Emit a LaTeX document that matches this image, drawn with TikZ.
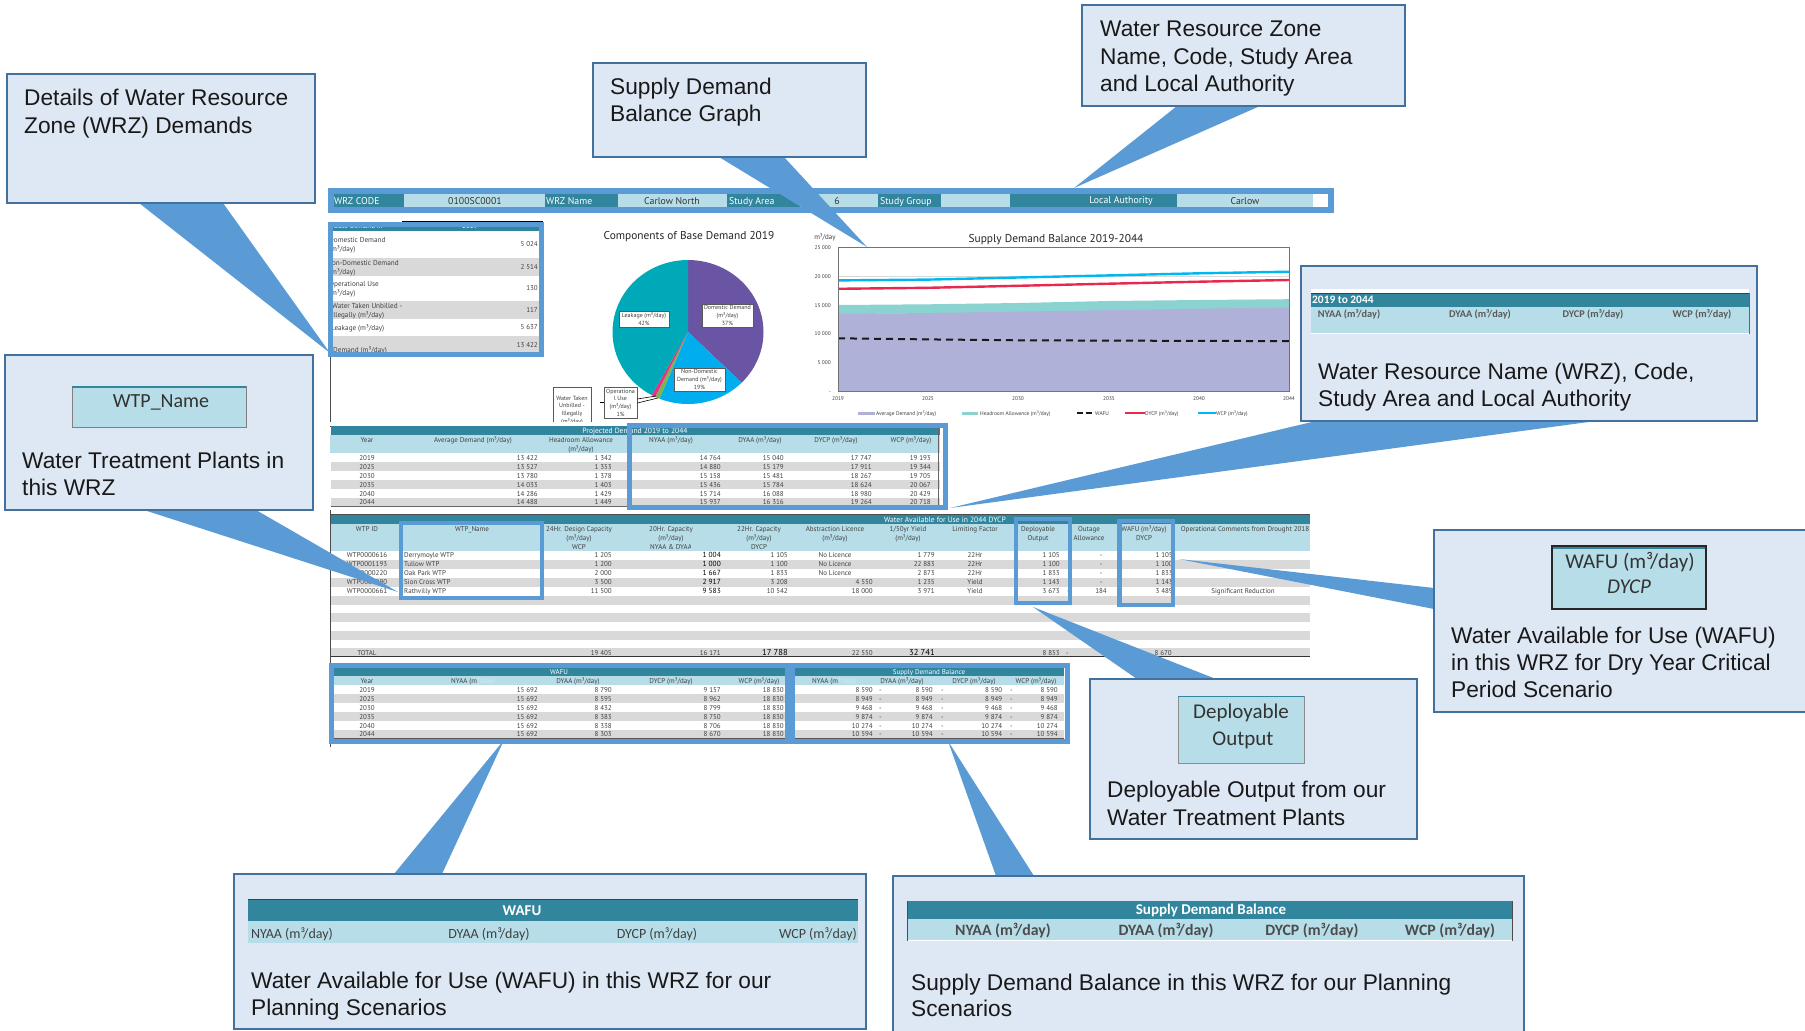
\documentclass[tikz,border=0pt]{standalone}
\usepackage{fontspec}
\setmainfont{Liberation Sans}
\newfontfamily\tabfont{PT Sans}
\newfontfamily\calfont{Carlito}
\definecolor{tealdark}{HTML}{31859C}
\definecolor{teallight}{HTML}{B7DEE8}
\definecolor{rowgrey}{HTML}{D9D9D9}
\definecolor{calloutfill}{HTML}{DEE8F4}
\definecolor{calloutline}{HTML}{41719C}
\definecolor{accent}{HTML}{5B9BD5}
\definecolor{tabtext}{HTML}{404040}
\definecolor{avgfill}{HTML}{B0B1D9}
\definecolor{headfill}{HTML}{8AD3D0}
\definecolor{wcpline}{HTML}{00B7F0}
\definecolor{dycpline}{HTML}{E8284F}
\newcount\cellno
\newcommand{\cellR}[4][tabtext]{\global\advance\cellno by 1 \node[cellbase,anchor=mid east,text=#1] (cell\the\cellno) at (#2,#3) {#4};}
\newcommand{\cellL}[4][tabtext]{\global\advance\cellno by 1 \node[cellbase,anchor=mid west,text=#1] (cell\the\cellno) at (#2,#3) {#4};}
\newcommand{\cellC}[4][tabtext]{\global\advance\cellno by 1 \node[cellbase,anchor=mid,text=#1] (cell\the\cellno) at (#2,#3) {#4};}
\newcommand{\bandG}[4]{\fill[rowgrey] (#1,#2) rectangle (#3,#4);}
\newcommand{\callbox}[5]{\node[calloutbox,minimum width={(#4-#2)*1pt},minimum height={(#5-#3)*1pt}] (#1) at ({(#2+#4)/2},{(#3+#5)/2}) {};}
\newcommand{\bodytext}[4]{\node[bodyline] (#1) at (#2,#3) {#4};}
\tikzset{
  cellbase/.style={inner sep=0pt,font=\tabfont\fontsize{7}{7.5}\selectfont},
  calloutbox/.style={draw=calloutline,line width=1.8pt,fill=calloutfill,inner sep=0pt},
  bodyline/.style={anchor=mid west,inner sep=0pt,yshift=-5.5pt,font=\fontsize{22.7}{27}\selectfont,text=black!90},
  tailshape/.style={fill=accent},
  bluefr/.style={draw=accent,line width=5pt},
  pielab/.style={draw=black!65,line width=0.8pt,fill=white,inner sep=1pt,align=center,font=\tabfont\fontsize{6}{8.2}\selectfont,text=tabtext},
  minibar/.style={fill=tealdark},
  minilight/.style={fill=teallight},
  minitext/.style={inner sep=0pt,font=\calfont\fontsize{14}{16}\selectfont,text=black!80},
  axislab/.style={inner sep=0pt,font=\tabfont\fontsize{5.4}{6}\selectfont,text=tabtext},
  charttitle/.style={inner sep=0pt,yshift=-2pt,font=\tabfont\fontsize{11.4}{13}\selectfont,text=black!85},
}
\begin{document}
\begin{tikzpicture}[x=1pt,y=-1pt]
\useasboundingbox (0,0) rectangle (1805,1031);
\clip (0,0) rectangle (1805,1031);
\fill[white] (0,0) rectangle (1805,1031);

% page line
\draw[black!70,line width=1pt] (330,357) -- (330,747);

% ---------- header band
\fill[white] (1313,194) rectangle (1329,207);
\fill[teallight] (333,194) rectangle (1313,207);
\foreach \a/\b in {333/404,545/618,727/800,878/941,1010/1177}{\fill[tealdark] (\a,194) rectangle (\b,207);}
\cellL[white]{334}{201.5}{\fontsize{9.8}{10}\selectfont WRZ CODE}
\cellC[black!80]{475}{201.5}{\fontsize{9.8}{10}\selectfont 0100SC0001}
\cellL[white]{546}{201.5}{\fontsize{9.8}{10}\selectfont WRZ Name}
\cellC[black!80]{672}{201.5}{\fontsize{9.8}{10}\selectfont Carlow North}
\cellL[white]{729}{201.5}{\fontsize{9.8}{10}\selectfont Study Area}
\cellC[black!80]{837}{201.5}{\fontsize{9.8}{10}\selectfont 6}
\cellL[white]{880}{201.5}{\fontsize{9.8}{10}\selectfont Study Group}
\cellC[white]{1121}{200.5}{\fontsize{9.8}{10}\selectfont Local Authority}
\cellC[black!80]{1245}{201.5}{\fontsize{9.8}{10}\selectfont Carlow}

% ---------- base demand table
\draw[black,line width=1pt] (402,221.5) -- (543,221.5);
\fill[tealdark] (333,226) rectangle (539,230.5);
\bandG{333}{258}{539}{276}
\bandG{333}{301}{539}{319}
\bandG{333}{336}{539}{352}
\begin{scope}
\clip (333,227) rectangle (539,352);
\cellL[white]{334}{226}{Base Demand in}
\cellL[white]{462}{226}{2019}
\cellL{329}{240}{\fontsize{7.2}{8}\selectfont Domestic Demand}
\cellL{329}{249}{\fontsize{7.2}{8}\selectfont (m³/day)}
\cellL{327}{263}{\fontsize{7.2}{8}\selectfont Non-Domestic Demand}
\cellL{329}{272}{\fontsize{7.2}{8}\selectfont (m³/day)}
\cellL{329}{284}{\fontsize{7.2}{8}\selectfont Operational Use}
\cellL{329}{293}{\fontsize{7.2}{8}\selectfont (m³/day)}
\cellL{332}{306}{\fontsize{7.2}{8}\selectfont Water Taken Unbilled -}
\cellL{331}{315}{\fontsize{7.2}{8}\selectfont Illegally (m³/day)}
\cellL{331}{328}{\fontsize{7.2}{8}\selectfont Leakage (m³/day)}
\cellL{333}{350}{\fontsize{7.2}{8}\selectfont Demand (m³/day)}
\cellR{538}{244}{5 024}
\cellR{538}{267}{2 514}
\cellR{538}{288}{130}
\cellR{538}{310}{117}
\cellR{538}{327}{5 637}
\cellR{538}{345}{13 422}
\end{scope}

% ---------- pie chart
\node[charttitle] (pietitle) at (689,235) {Components of Base Demand 2019};
\foreach \aa/\bb/\cc in {90/-44.8/6A55A5,-44.8/-112.2/00AEEF,-112.2/-115.7/7AB648,-115.7/-118.8/E6308A,-118.8/-270/00A9B7}{
  \definecolor{slicecol}{HTML}{\cc}
  \fill[slicecol] (688,332) -- plot[domain=\aa:\bb,samples=40] ({688+75.5*cos(\x)},{332-72*sin(\x)}) -- cycle;
}
\node[pielab,minimum width=51pt,minimum height=23pt] (pdom) at (727.5,315.5) {Domestic Demand\\[-0.5pt](m³/day)\\[-0.5pt]37\%};
\node[pielab,minimum width=50pt,minimum height=16pt] (pleak) at (644,319) {Leakage (m³/day)\\[-0.5pt]42\%};
\node[pielab,minimum width=51pt,minimum height=23pt] (pnon) at (699.5,379.5) {Non-Domestic\\[-0.5pt]Demand (m³/day)\\[-0.5pt]19\%};
\node[pielab,minimum width=33pt,minimum height=31pt,inner sep=0.5pt] (pop) at (620.5,402.5) {Operationa\\[-0.5pt]l Use\\[-0.5pt](m³/day)\\[-0.5pt]1\%};
\begin{scope}
\clip (545,380) rectangle (600,422);
\node[pielab,minimum width=38pt,minimum height=52pt,anchor=north,inner sep=0.5pt,text depth=0pt] (pill) at (572,387) {Water Taken\\[-0.5pt]Unbilled -\\[-0.5pt]Illegally\\[-0.5pt](m³/day)\\[-0.5pt]1\%};
\end{scope}
\coordinate (slicegreen) at (658,398);
\coordinate (slicepink) at (656,396);
\coordinate (stubleft) at (600,402);
\draw[black,line width=0.6pt] (pop.east |- 0,399) -- (slicepink);
\draw[black,line width=0.6pt] (pop.east |- 0,403) -- (slicegreen);
\draw[black,line width=0.6pt] (stubleft) -- (pop.west |- stubleft);

% ---------- supply demand chart
\node[charttitle] (sdtitle) at (1056,238) {Supply Demand Balance 2019-2044};
\node[axislab,font=\tabfont\fontsize{7}{8}\selectfont] (unitlab) at (825,237) {m³/day};
\draw[black!15,line width=0.8pt] (838,276) -- (1289,276);
\draw[black!15,line width=0.8pt] (838,305) -- (1289,305);
\fill[headfill] (838,305.0) -- (928,304.3) -- (1018,303) -- (1109,301) -- (1199,300) -- (1289,299.2) -- (1289,311) -- (838,314) -- cycle;
\fill[avgfill] (838,313.7) -- (928,313.1) -- (1018,311.6) -- (1109,310.2) -- (1199,308.7) -- (1289,307.5) -- (1289,391) -- (838,391) -- cycle;
\draw[black!90,dash pattern=on 7pt off 5pt,line width=2pt] (838,338.3) -- (928,339.4) -- (1018,340.3) -- (1109,340.6) -- (1199,340.9) -- (1289,341.1);
\draw[dycpline,line width=2.4pt] (838,288.8) -- (928,287.8) -- (1018,285.8) -- (1109,283.7) -- (1199,281.7) -- (1289,280);
\draw[wcpline,line width=2.4pt] (838,280.4) -- (928,279.6) -- (1018,277.5) -- (1109,275.4) -- (1199,273.3) -- (1289,271.7);
\draw[black!55,line width=1pt] (838,247) rectangle (1289,391);
\foreach \yy/\tt in {247/25 000,276/20 000,305/15 000,333/10 000,362/5 000,391/-}{
  \node[axislab,anchor=mid east] (ylab\yy) at (831,\yy) {\tt};
}
\foreach \xx/\tt in {838/2019,928/2025,1018/2030,1109/2035,1199/2040,1289/2044}{
  \node[axislab] (xlab\tt) at (\xx,399) {\tt};
}
\fill[avgfill] (858,411.5) rectangle (875,414.5);
\node[axislab,anchor=mid west] (lg1) at (876,413) {Average Demand (m³/day)};
\fill[headfill] (962,411.5) rectangle (978,414.5);
\node[axislab,anchor=mid west] (lg2) at (980,413) {Headroom Allowance (m³/day)};
\draw[black!90,dash pattern=on 6pt off 3pt,line width=1.5pt] (1077,413) -- (1092,413);
\node[axislab,anchor=mid west] (lg3) at (1095,413) {WAFU};
\draw[dycpline,line width=1.5pt] (1125,413) -- (1145,413);
\node[axislab,anchor=mid west] (lg4) at (1145,413) {DYCP (m³/day)};
\draw[wcpline,line width=1.5pt] (1198,413) -- (1216,413);
\node[axislab,anchor=mid west] (lg5) at (1216,413) {WCP (m³/day)};

% ---------- projected demand table
\fill[white] (330,422) rectangle (940,510);
\fill[teallight] (330,435) rectangle (940,453);
\draw[black!70,line width=1pt] (330,426) -- (940,426);
\fill[tealdark] (331,426) rectangle (940,435);
\foreach \yy in {462,480,498}{\bandG{331}{\yy}{940}{\the\numexpr\yy+9\relax}}
\draw[black!60,line width=1pt] (331,506.5) -- (940,506.5);
\draw[black!60,line width=1pt] (938.5,426) -- (938.5,506);
\cellC[white]{635}{431}{\fontsize{7.6}{8}\selectfont Projected Demand 2019 to 2044}
\cellC{367}{440}{Year}
\cellC{473}{440}{Average Demand (m³/day)}
\cellC{581}{440}{Headroom Allowance}
\cellC{581}{449}{(m³/day)}
\cellC{671}{440}{NYAA (m³/day)}
\cellC{760}{440}{DYAA (m³/day)}
\cellC{836}{440}{DYCP (m³/day)}
\cellC{911}{440}{WCP (m³/day)}
\foreach \yy/\yr/\va/\vb/\vc/\vd/\ve/\vf in {
 458/2019/13 422/1 342/14 764/15 040/17 747/19 193,
 467/2025/13 527/1 353/14 880/15 179/17 911/19 344,
 476/2030/13 780/1 378/15 158/15 481/18 267/19 705,
 485/2035/14 033/1 403/15 436/15 784/18 624/20 067,
 493.5/2040/14 286/1 429/15 714/16 088/18 980/20 429,
 502/2044/14 488/1 449/15 937/16 316/19 264/20 718}{
 \cellC{367}{\yy}{\yr}
 \cellR{538}{\yy}{\va}
 \cellR{612}{\yy}{\vb}
 \cellR{721}{\yy}{\vc}
 \cellR{784}{\yy}{\vd}
 \cellR{872}{\yy}{\ve}
 \cellR{931}{\yy}{\vf}
}

% ---------- WTP table
\draw[black!70,line width=1pt] (330,514.5) -- (1310,514.5);
\fill[tealdark] (331,515) rectangle (1310,524);
\fill[teallight] (331,524) rectangle (1310,551);
\foreach \aa/\bb in {560/569,578/587,596/604.5,613/622,631/640,648/656}{\bandG{331}{\aa}{1310}{\bb}}
\draw[black!80,line width=1pt] (331,656.5) -- (1310,656.5);
\cellC[white]{945}{519.5}{\fontsize{7.6}{8}\selectfont Water Available for Use in 2044 DYCP}
\cellC{367}{529}{WTP ID}
\cellC{472}{529}{WTP\_Name}
\cellC{579}{529}{24Hr. Design Capacity}
\cellC{579}{538}{(m³/day)}
\cellC{579}{547}{WCP}
\cellC{671}{529}{20Hr. Capacity}
\cellC{671}{538}{(m³/day)}
\begin{scope}\clip (640,542) rectangle (690,552);\cellC{671}{547}{NYAA \& DYAA}\end{scope}
\cellC{759}{529}{22Hr. Capacity}
\cellC{759}{538}{(m³/day)}
\begin{scope}\clip (740,542) rectangle (766,552);\cellC{759}{547}{DYCP}\end{scope}
\cellC{835}{529}{Abstraction Licence}
\cellC{835}{538}{(m³/day)}
\cellC{908}{529}{1/50yr Yield}
\cellC{908}{538}{(m³/day)}
\cellC{975}{529}{Limiting Factor}
\cellC{1038}{529}{Deployable}
\cellC{1038}{538}{Output}
\cellC{1089}{529}{Outage}
\cellC{1089}{538}{Allowance}
\cellC{1144}{529}{WAFU  (m³/day)}
\cellC{1144}{538}{DYCP}
\cellC{1245}{529}{Operational Comments from Drought 2018}
\foreach \yy/\wid/\wna/\vcd/\vcb/\vcc/\vab/\vyl/\vlf/\vdo/\vou/\vwa in {
 555/WTP0000616/Derrymoyle WTP/1 205/1 004/1 105/No Licence/1 779/22Hr/1 105/-/1 105,
 564/WTP0001193/Tullow WTP/1 200/1 000/1 100/No Licence/22 883/22Hr/1 100/-/1 100,
 573/WTP0000220/Oak Park WTP/2 000/1 667/1 833/No Licence/2 873/22Hr/1 833/-/1 833,
 582/WTP0000290/Sion Cross WTP/3 500/2 917/3 208/4 550/1 235/Yield/1 143/-/1 143,
 591/WTP0000661/Rathvilly WTP/11 500/9 583/10 542/18 000/3 971/Yield/3 673/184/3 489}{
 \cellC{367}{\yy}{\wid}
 \cellL{404}{\yy}{\wna}
 \cellR{612}{\yy}{\vcd}
 \cellR[black]{721}{\yy}{\fontsize{7.4}{8}\selectfont\vcb}
 \cellR{788}{\yy}{\vcc}
 \cellC{975}{\yy}{\vlf}
 \cellR{935}{\yy}{\vyl}
 \cellR{1060}{\yy}{\vdo}
 \cellC{1101}{\yy}{\vou}
 \cellR{1173}{\yy}{\vwa}
}
\foreach \yy in {555,564,573}{\cellC{835}{\yy}{No Licence}}
\cellR{873}{582}{4 550}
\cellR{873}{591}{18 000}
\cellC{1243}{591}{Significant Reduction}
\cellL{1067}{591}{-}
\cellC{367}{653}{TOTAL}
\cellR{612}{653}{19 405}
\cellR{721}{653}{16 171}
\cellR[black]{788}{653}{\fontsize{8.6}{9}\selectfont 17 788}
\cellR{873}{653}{22 550}
\cellR[black]{935}{653}{\fontsize{8.6}{9}\selectfont 32 741}
\cellR{1060}{653}{8 853}
\cellL{1066}{653}{-}
\cellR{1172}{653}{8 670}

% ---------- WAFU / SDB tables
\fill[teallight] (333,676) rectangle (1064,685);
\fill[tealdark] (333,668) rectangle (785,676);
\fill[tealdark] (795,668) rectangle (1064,676);
\foreach \aa/\bb in {694/703,712/721,730/738}{\bandG{333}{\aa}{1064}{\bb}}
\draw[black!65,line width=1.5pt] (333,738.8) -- (1064,738.8);
\cellC[white]{559}{672}{WAFU}
\cellC[white]{929}{672}{Supply Demand Balance}
\cellC{367}{680.5}{Year}
\cellC{473}{680.5}{NYAA (m\textcolor{teallight!60!white}{³/day)}}
\cellC{578}{680.5}{DYAA (m³/day)}
\cellC{671}{680.5}{DYCP (m³/day)}
\cellC{759}{680.5}{WCP (m³/day)}
\cellC{834}{680.5}{NYAA (m\textcolor{teallight!60!white}{³/day)}}
\cellC{902}{680.5}{DYAA (m³/day)}
\cellC{974}{680.5}{DYCP (m³/day)}
\cellC{1036}{680.5}{WCP (m³/day)}
\foreach \yy/\yr/\da/\dc/\sb in {
 689.5/2019/8 790/9 157/8 590,
 698.5/2025/8 595/8 962/8 949,
 707.5/2030/8 432/8 799/9 468,
 716.5/2035/8 383/8 750/9 874,
 725.5/2040/8 338/8 706/10 274,
 734/2044/8 303/8 670/10 594}{
 \cellC{367}{\yy}{\yr}
 \cellR{538}{\yy}{15 692}
 \cellR{612}{\yy}{\da}
 \cellR{721}{\yy}{\dc}
 \cellR{784}{\yy}{18 830}
 \cellR{873}{\yy}{\sb}
 \cellL{879}{\yy}{-}
 \cellR{933}{\yy}{\sb}
 \cellL{941}{\yy}{-}
 \cellR{1002.5}{\yy}{\sb}
 \cellL{1010}{\yy}{-}
 \cellR{1058}{\yy}{\sb}
}

% ---------- blue highlight frames
\draw[bluefr,line width=6pt] (331,191) rectangle (1331,209.5);
\draw[bluefr] (330.5,224.5) rectangle (541.5,354.5);
\draw[bluefr] (629.5,425.5) rectangle (945.5,507.5);
\draw[bluefr,line width=4pt] (401,523) rectangle (542,598);
\draw[bluefr,line width=4pt] (1016,519) rectangle (1070,603);
\draw[bluefr,line width=4.5pt] (1119.5,521) rectangle (1173,605);
\draw[bluefr] (331.5,665.5) rectangle (790.5,741.5);
\draw[bluefr] (792.5,665.5) rectangle (1067,741.5);
\fill[accent] (785,663) rectangle (795,744);

% ---------- callout tails
\coordinate (tipdetails) at (330,353);
\coordinate (tipgraph) at (867,247);
\coordinate (tipzone) at (1074,188);
\coordinate (tipname) at (950,508);
\coordinate (tipwtp) at (398,592);
\coordinate (tipwafuone) at (1179,559);
\coordinate (tipdeploy) at (1033,607);
\coordinate (tipwafu) at (504,740);
\coordinate (tipsdb) at (948,741);
\fill[tailshape] (139,203) -- (223,203) -- (tipdetails) -- cycle;
\fill[tailshape] (719,157) -- (784,157) -- (tipgraph) -- cycle;
\fill[tailshape] (1177,106) -- (1260,106) -- (tipzone) -- cycle;
\fill[tailshape] (1316,421) -- (1596,421) -- (tipname) -- cycle;
\fill[tailshape] (144,510) -- (256,510) -- (tipwtp) -- cycle;
\fill[tailshape] (1434,588) -- (1434,609) -- (tipwafuone) -- cycle;
\fill[tailshape] (1137,679) -- (1216,679) -- (tipdeploy) -- cycle;
\fill[tailshape] (394,874) -- (442,874) -- (tipwafu) -- cycle;
\fill[tailshape] (996,876) -- (1034,876) -- (tipsdb) -- cycle;

% ---------- callouts
\callbox{cdetails}{7}{74}{315}{203}
\bodytext{cdetailsa}{24}{97}{Details of Water Resource}
\bodytext{cdetailsb}{24}{125}{Zone (WRZ) Demands}

\callbox{cgraph}{593}{63}{866}{157}
\bodytext{cgrapha}{610}{86}{Supply Demand}
\bodytext{cgraphb}{610}{113}{Balance Graph}

\callbox{czone}{1082}{5}{1405}{106}
\bodytext{czonea}{1100}{28}{Water Resource Zone}
\bodytext{czoneb}{1100}{56}{Name, Code, Study Area}
\bodytext{czonec}{1100}{83}{and Local Authority}

\callbox{cname}{1301}{266}{1757}{421}
\fill[white] (1311,289) rectangle (1749,334);
\fill[teallight] (1311,307) rectangle (1749,333);
\fill[tealdark] (1311,293) rectangle (1749,307);
\draw[black!75,line width=1pt] (1311,293) -- (1749,293);
\draw[black!60,line width=1pt] (1749,293) -- (1749,334);
\node[inner sep=0pt,anchor=mid west,font=\calfont\bfseries\fontsize{11.4}{12}\selectfont,text=white] (cnameh) at (1312,300.5) {2019 to 2044};
\foreach \xx/\tt in {1349/NYAA,1480/DYAA,1593/DYCP,1702/WCP}{\node[inner sep=0pt,font=\calfont\bfseries\fontsize{10.3}{12}\selectfont,text=black!65] (cname\tt) at (\xx,314.5) {\tt{} (m³/day)};}
\bodytext{cnamea}{1318}{371}{Water Resource Name (WRZ), Code,}
\bodytext{cnameb}{1318}{398}{Study Area and Local Authority}

\callbox{cwtp}{5}{355}{313}{510}
\node[minilight,draw=black!50,line width=1pt,minimum width=174pt,minimum height=41pt,inner sep=0pt] (cwtpbox) at (159,406.5) {};
\fill[tealdark] (72,386) rectangle (246,387.5);
\node[minitext,font=\calfont\fontsize{20}{22}\selectfont] (cwtpt) at (161,402) {WTP\_Name};
\bodytext{cwtpa}{22}{460}{Water Treatment Plants in}
\bodytext{cwtpb}{22}{487}{this WRZ}

\callbox{cwafuone}{1434}{530}{1815}{712}
\node[minilight,draw=black!85,line width=1.8pt,minimum width=154pt,minimum height=63pt,inner sep=0pt] (cwafubox) at (1629,577.5) {};
\fill[tealdark] (1553,547) rectangle (1705,549);
\node[minitext,font=\calfont\fontsize{21}{23}\selectfont] (cwafut) at (1630,562.5) {WAFU  (m³/day)};
\node[minitext,font=\calfont\itshape\fontsize{21}{23}\selectfont] (cwafuu) at (1629,587) {DYCP};
\bodytext{cwafuonea}{1451}{635}{Water Available for Use (WAFU)}
\bodytext{cwafuoneb}{1451}{662}{in this WRZ for Dry Year Critical}
\bodytext{cwafuonec}{1451}{689}{Period Scenario}

\callbox{cdeploy}{1090}{679}{1417}{839}
\node[minilight,draw=black!45,line width=1pt,minimum width=126pt,minimum height=67pt,inner sep=0pt] (cdepbox) at (1241,729.5) {};
\fill[tealdark] (1178,696) rectangle (1304,697);
\node[minitext,font=\calfont\fontsize{21}{23}\selectfont] (cdept) at (1241,713) {Deployable};
\node[minitext,font=\calfont\fontsize{21}{23}\selectfont] (cdepu) at (1243,740) {Output};
\bodytext{cdeploya}{1107}{789}{Deployable Output from our}
\bodytext{cdeployb}{1107}{817}{Water Treatment Plants}

\callbox{cwafu}{234}{874}{866}{1029}
\fill[teallight] (248,921) rectangle (858,943);
\fill[tealdark] (248,899) rectangle (858,921);
\draw[black!75,line width=1pt] (248,899) -- (858,899);
\node[minitext,font=\calfont\bfseries\fontsize{15}{16}\selectfont,text=white] (cwafuh) at (522,911) {WAFU};
\foreach \xx/\tt in {292/NYAA,489/DYAA,657/DYCP,818/WCP}{\node[minitext,text=black!75] (cwafu\tt) at (\xx,934.5) {\tt{} (m³/day)};}
\bodytext{cwafua}{251}{980}{Water Available for Use (WAFU) in this WRZ for our}
\bodytext{cwafub}{251}{1007}{Planning Scenarios}

\callbox{csdb}{893}{876}{1524}{1040}
\fill[white] (907,901) rectangle (1512,941);
\fill[teallight] (907,919) rectangle (1512,940);
\fill[tealdark] (907,901) rectangle (1512,919);
\draw[black!70,line width=0.8pt] (907,901) -- (907,941);
\draw[black!70,line width=0.8pt] (1512,901) -- (1512,941);
\node[minitext,font=\calfont\bfseries\fontsize{15}{16}\selectfont,text=white] (csdbh) at (1211,910) {Supply Demand Balance};
\foreach \xx/\tt in {1003/NYAA,1166/DYAA,1312/DYCP,1450/WCP}{\node[minitext,font=\calfont\bfseries\fontsize{15.8}{17}\selectfont,text=black!70] (csdb\tt) at (\xx,931) {\tt{} (m³/day)};}
\bodytext{csdba}{911}{982}{Supply Demand Balance in this WRZ for our Planning}
\bodytext{csdbb}{911}{1008}{Scenarios}
\end{tikzpicture}
\end{document}
